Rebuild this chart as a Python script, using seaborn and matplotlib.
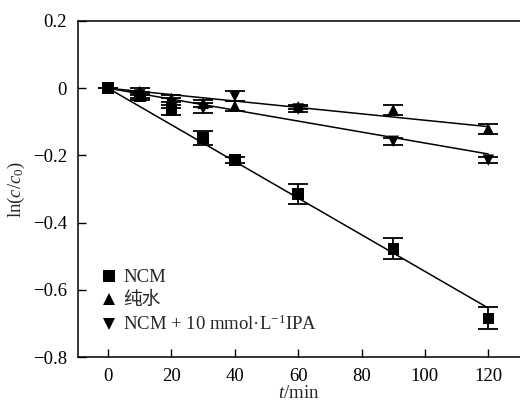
import numpy as np
import pandas as pd
import matplotlib
matplotlib.use("Agg")
import matplotlib.pyplot as plt
from matplotlib.ticker import FuncFormatter
import seaborn as sns

# sampling times (min)
t = [0, 10, 20, 30, 40, 60, 90, 120]

# ln(c/c0) for each condition, with standard deviations
ncm = [0, -0.025, -0.065, -0.148, -0.214, -0.315, -0.478, -0.685]
ncm_err = [0, 0.01, 0.015, 0.02, 0.01, 0.03, 0.031, 0.033]
water = [0, -0.01, -0.03, -0.045, -0.053, -0.055, -0.064, -0.121]
water_err = [0, 0.01, 0.01, 0.01, 0.015, 0.006, 0.015, 0.015]
ipa = [0, -0.02, -0.045, -0.06, -0.024, -0.062, -0.158, -0.214]
ipa_err = [0, 0.01, 0.015, 0.015, 0.015, 0.01, 0.01, 0.01]

labels = ["NCM", "纯水", r"NCM + 10 mmol·L$^{-1}$IPA"]
markers = ["s", "^", "v"]

sns.set_theme(style="ticks")
plt.rcParams["font.family"] = ["Liberation Serif", "Noto Sans CJK SC"]
plt.rcParams["mathtext.fontset"] = "custom"
plt.rcParams["mathtext.rm"] = "Liberation Serif"
plt.rcParams["mathtext.it"] = "Liberation Serif:italic"
plt.rcParams["axes.unicode_minus"] = True

fig = plt.figure(figsize=(5.2, 4.03), dpi=100)
ax = fig.add_axes([0.15, 0.1141, 0.85, 0.8338])

series = [(ncm, ncm_err), (water, water_err), (ipa, ipa_err)]
frames = []
for lab, (y, e) in zip(labels, series):
    frames.append(pd.DataFrame({"t": t, "y": y, "err": e, "group": lab}))
df = pd.concat(frames, ignore_index=True)

# first-order fits through the origin
tt = np.array(t, dtype=float)
fit_rows = []
for lab, (y, e) in zip(labels, series):
    k = np.sum(tt * np.array(y)) / np.sum(tt ** 2)
    fit_rows.append(pd.DataFrame({"t": [0.0, 120.0], "y": [0.0, k * 120.0], "group": lab}))
fit = pd.concat(fit_rows, ignore_index=True)

sns.lineplot(data=fit, x="t", y="y", units="group", estimator=None,
             color="black", lw=1.1, ax=ax, legend=False)

for lab, (y, e) in zip(labels, series):
    ax.errorbar(t, y, yerr=e, fmt="none", ecolor="black", elinewidth=1.3,
                capsize=7.5, capthick=1.3, zorder=3)

sns.scatterplot(data=df, x="t", y="y", style="group", markers=dict(zip(labels, markers)),
                color="black", s=68, linewidth=0, ax=ax, zorder=4)

ax.set_xlim(-9.5, 130)
ax.set_ylim(-0.8, 0.2)
ax.set_xticks([0, 20, 40, 60, 80, 100, 120])
ax.set_yticks([-0.8, -0.6, -0.4, -0.2, 0, 0.2])
ax.yaxis.set_major_formatter(FuncFormatter(
    lambda v, p: "0" if abs(v) < 1e-9 else f"{v:.1f}".replace("-", "\u2212")))

ax.tick_params(direction="in", length=5.5, width=1.0, labelsize=13.5, pad=8, colors="black")
for side in ["left", "bottom", "top"]:
    ax.spines[side].set_linewidth(1.1)
    ax.spines[side].set_color("black")
ax.spines["right"].set_visible(False)

ax.set_xlabel(r"$t$/min", fontsize=13.5, labelpad=0)
ax.set_ylabel(r"ln($c$/$c_0$)", fontsize=13.5, labelpad=4)

leg = ax.legend(loc="lower left", bbox_to_anchor=(0.045, 0.068), frameon=False,
                fontsize=13.5, handletextpad=0.15, handlelength=1.2, labelspacing=0.3,
                borderaxespad=0, borderpad=0)
for h in leg.legend_handles:
    h.set_color("black")

fig.savefig("out.png", dpi=100)
